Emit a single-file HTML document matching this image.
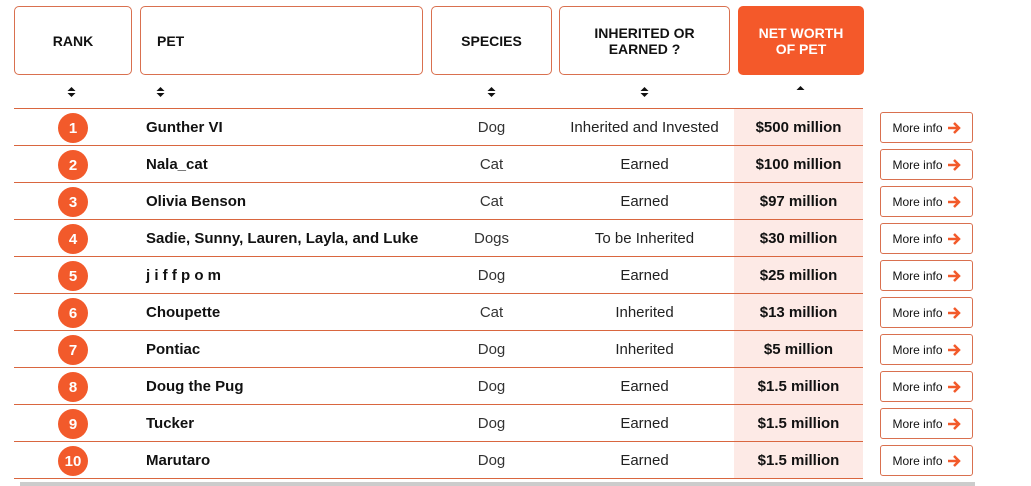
<!DOCTYPE html>
<html><head><meta charset="utf-8"><style>
body{margin:0;width:1031px;height:486px;background:#fff;font-family:"Liberation Sans",sans-serif;position:relative;overflow:hidden;color:#111}
.h{position:absolute;top:6px;border:1px solid #d9704f;border-radius:5px;box-sizing:border-box;height:69px;display:flex;align-items:center;justify-content:center;font-weight:bold;font-size:14px;text-align:center;line-height:16px}
.s{position:absolute;top:86px}
.hl{position:absolute;left:734px;width:129px;top:109px;height:369px;background:#fdeae6}
.ln{position:absolute;left:14px;width:849px;height:1px;background:#d9663f}
.c{position:absolute;width:30px;height:30px;border-radius:50%;background:#f25a2b;color:#fff;font-weight:bold;font-size:15px;display:flex;align-items:center;justify-content:center}
.t{position:absolute;font-size:15px;white-space:nowrap;line-height:18px}
.b{position:absolute;left:880px;width:93px;height:31px;border:1px solid #d9704f;border-radius:3px;box-sizing:border-box;font-size:12px;display:flex;align-items:center;justify-content:center}
.b svg{margin-left:4px}
</style></head><body>
<div class="h" style="left:14px;width:118px">RANK</div>
<div class="h" style="left:140px;width:283px;justify-content:flex-start;padding-left:16px">PET</div>
<div class="h" style="left:431px;width:121px">SPECIES</div>
<div class="h" style="left:559px;width:171px">INHERITED OR<br>EARNED ?</div>
<div class="h" style="left:738px;width:126px;background:#f4592a;border-color:#f4592a;color:#fff">NET WORTH<br>OF PET</div>
<svg class="s" style="left:67px" width="9" height="12"><path d="M0.5 5L4.5 1L8.5 5Z M0.5 7L4.5 11L8.5 7Z" fill="#111"/></svg>
<svg class="s" style="left:156px" width="9" height="12"><path d="M0.5 5L4.5 1L8.5 5Z M0.5 7L4.5 11L8.5 7Z" fill="#111"/></svg>
<svg class="s" style="left:487px" width="9" height="12"><path d="M0.5 5L4.5 1L8.5 5Z M0.5 7L4.5 11L8.5 7Z" fill="#111"/></svg>
<svg class="s" style="left:640px" width="9" height="12"><path d="M0.5 5L4.5 1L8.5 5Z M0.5 7L4.5 11L8.5 7Z" fill="#111"/></svg>
<svg class="s" style="left:796px;top:85px" width="9" height="12"><path d="M0.5 5L4.5 1L8.5 5Z" fill="#111"/></svg>
<div class="hl"></div>
<div id="rows"></div>
<div style="position:absolute;left:20px;top:482px;width:955px;height:4px;background:#ccc"></div>
<script>
var d=[["Gunther VI","Dog","Inherited and Invested","$500 million"],["Nala_cat","Cat","Earned","$100 million"],["Olivia Benson","Cat","Earned","$97 million"],["Sadie, Sunny, Lauren, Layla, and Luke","Dogs","To be Inherited","$30 million"],["j i f f p o m","Dog","Earned","$25 million"],["Choupette","Cat","Inherited","$13 million"],["Pontiac","Dog","Inherited","$5 million"],["Doug the Pug","Dog","Earned","$1.5 million"],["Tucker","Dog","Earned","$1.5 million"],["Marutaro","Dog","Earned","$1.5 million"]];
var h='<div class="ln" style="top:108px"></div>';
var arr='<svg width="14" height="14"><path d="M1 7H12M7 2L12 7L7 12" stroke="#f25a2b" stroke-width="2.5" fill="none"/></svg>';
d.forEach(function(r,i){var y=108+i*37;
h+='<div class="ln" style="top:'+(y+37)+'px"></div>';
h+='<div class="c" style="left:58px;top:'+(y+5)+'px">'+(i+1)+'</div>';
h+='<div class="t" style="left:146px;top:'+(y+11)+'px;font-weight:bold">'+r[0]+'</div>';
h+='<div class="t" style="left:431px;width:121px;text-align:center;top:'+(y+11)+'px;color:#333">'+r[1]+'</div>';
h+='<div class="t" style="left:559px;width:171px;text-align:center;top:'+(y+11)+'px;color:#222">'+r[2]+'</div>';
h+='<div class="t" style="left:734px;width:129px;text-align:center;top:'+(y+11)+'px;font-weight:bold">'+r[3]+'</div>';
h+='<div class="b" style="top:'+(y+4)+'px">More info'+arr+'</div>';});
document.getElementById('rows').innerHTML=h;
</script>
</body></html>
